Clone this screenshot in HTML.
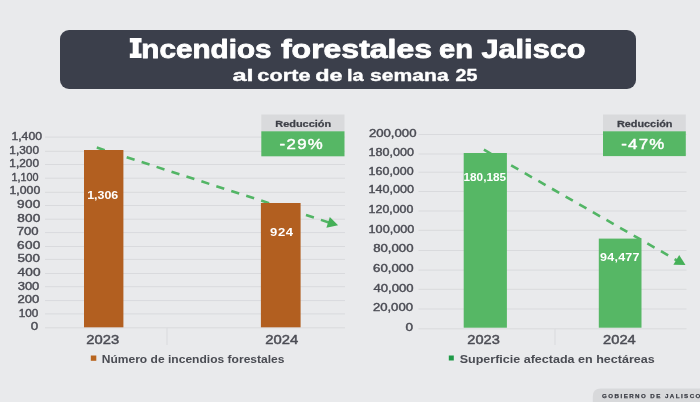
<!DOCTYPE html>
<html>
<head>
<meta charset="utf-8">
<title>Incendios forestales en Jalisco</title>
<style>
html,body{margin:0;padding:0;background:#e9eaec;}
body{width:700px;height:402px;overflow:hidden;position:relative;font-family:"Liberation Sans",sans-serif;}
svg{position:absolute;left:0;top:0;display:block;will-change:transform;}
text{font-family:"Liberation Sans",sans-serif;}
</style>
</head>
<body>
<svg width="700" height="402" viewBox="0 0 700 402">
<rect x="0" y="0" width="700" height="402" fill="#e9eaec"/>
<rect x="60" y="30" width="576" height="59" rx="9" ry="9" fill="#3b3f4b"/>
<path d="M129.8,38.1 H141.6 V42.6 H138.7 V53.5 H141.6 V57.9 H129.8 V53.5 H132.7 V42.6 H129.8 Z" fill="#ffffff"/>
<text transform="translate(141.37,57.50) scale(1.1321,1)" font-size="26.2" fill="#ffffff" font-weight="bold" stroke="#ffffff" stroke-width="0.8" stroke-linejoin="round">ncendios</text>
<text transform="translate(280.96,57.50) scale(1.2210,1)" font-size="26.2" fill="#ffffff" font-weight="bold" stroke="#ffffff" stroke-width="0.8" stroke-linejoin="round">forestales</text>
<text transform="translate(439.06,57.50) scale(1.1135,1)" font-size="26.2" fill="#ffffff" font-weight="bold" stroke="#ffffff" stroke-width="0.8" stroke-linejoin="round">en</text>
<text transform="translate(481.44,57.50) scale(1.1724,1)" font-size="26.2" fill="#ffffff" font-weight="bold" stroke="#ffffff" stroke-width="0.8" stroke-linejoin="round">Jalisco</text>
<text transform="translate(232.47,80.60) scale(1.4628,1)" font-size="17.3" fill="#ffffff" font-weight="bold" stroke="#ffffff" stroke-width="0.4" stroke-linejoin="round">al</text>
<text transform="translate(257.35,80.60) scale(1.2574,1)" font-size="17.3" fill="#ffffff" font-weight="bold" stroke="#ffffff" stroke-width="0.4" stroke-linejoin="round">corte</text>
<text transform="translate(315.24,80.60) scale(1.3551,1)" font-size="17.3" fill="#ffffff" font-weight="bold" stroke="#ffffff" stroke-width="0.4" stroke-linejoin="round">de</text>
<text transform="translate(347.02,80.60) scale(1.1531,1)" font-size="17.3" fill="#ffffff" font-weight="bold" stroke="#ffffff" stroke-width="0.4" stroke-linejoin="round">la</text>
<text transform="translate(370.06,80.60) scale(1.2199,1)" font-size="17.3" fill="#ffffff" font-weight="bold" stroke="#ffffff" stroke-width="0.4" stroke-linejoin="round">semana</text>
<text transform="translate(455.53,80.60) scale(1.1330,1)" font-size="17.3" fill="#ffffff" font-weight="bold" stroke="#ffffff" stroke-width="0.4" stroke-linejoin="round">25</text>
<g stroke="#d9dadd" stroke-width="1">
<line x1="45" x2="345" y1="137.10" y2="137.10"/>
<line x1="45" x2="345" y1="151.30" y2="151.30"/>
<line x1="45" x2="345" y1="164.50" y2="164.50"/>
<line x1="45" x2="345" y1="178.20" y2="178.20"/>
<line x1="45" x2="345" y1="192.30" y2="192.30"/>
<line x1="45" x2="345" y1="205.50" y2="205.50"/>
<line x1="45" x2="345" y1="219.20" y2="219.20"/>
<line x1="45" x2="345" y1="232.60" y2="232.60"/>
<line x1="45" x2="345" y1="246.50" y2="246.50"/>
<line x1="45" x2="345" y1="259.40" y2="259.40"/>
<line x1="45" x2="345" y1="273.50" y2="273.50"/>
<line x1="45" x2="345" y1="286.70" y2="286.70"/>
<line x1="45" x2="345" y1="300.60" y2="300.60"/>
<line x1="45" x2="345" y1="313.90" y2="313.90"/>
<line x1="45" x2="345" y1="327.80" y2="327.80"/>
<line x1="167" x2="167" y1="327.80" y2="345"/>
</g>
<text transform="translate(11.42,139.90) scale(1.1646,1)" font-size="10.5" fill="#4b4c54" stroke="#4b4c54" stroke-width="0.4" stroke-linejoin="round">1,400</text>
<text transform="translate(9.35,153.50) scale(1.1287,1)" font-size="10.5" fill="#4b4c54" stroke="#4b4c54" stroke-width="0.4" stroke-linejoin="round">1,300</text>
<text transform="translate(9.35,167.10) scale(1.1287,1)" font-size="10.5" fill="#4b4c54" stroke="#4b4c54" stroke-width="0.4" stroke-linejoin="round">1,200</text>
<text transform="translate(11.53,180.70) scale(1.0290,1)" font-size="10.5" fill="#4b4c54" stroke="#4b4c54" stroke-width="0.4" stroke-linejoin="round">1,100</text>
<text transform="translate(9.51,194.30) scale(1.1725,1)" font-size="10.5" fill="#4b4c54" stroke="#4b4c54" stroke-width="0.4" stroke-linejoin="round">1,000</text>
<text transform="translate(17.12,207.90) scale(1.3000,1)" font-size="10.5" fill="#4b4c54" letter-spacing="0.184" stroke="#4b4c54" stroke-width="0.4" stroke-linejoin="round">900</text>
<text transform="translate(17.16,221.50) scale(1.3000,1)" font-size="10.5" fill="#4b4c54" letter-spacing="0.168" stroke="#4b4c54" stroke-width="0.4" stroke-linejoin="round">800</text>
<text transform="translate(16.78,235.10) scale(1.2485,1)" font-size="10.5" fill="#4b4c54" stroke="#4b4c54" stroke-width="0.4" stroke-linejoin="round">700</text>
<text transform="translate(17.07,248.70) scale(1.3000,1)" font-size="10.5" fill="#4b4c54" letter-spacing="0.205" stroke="#4b4c54" stroke-width="0.4" stroke-linejoin="round">600</text>
<text transform="translate(17.61,262.30) scale(1.2758,1)" font-size="10.5" fill="#4b4c54" stroke="#4b4c54" stroke-width="0.4" stroke-linejoin="round">500</text>
<text transform="translate(17.45,275.90) scale(1.3000,1)" font-size="10.5" fill="#4b4c54" letter-spacing="0.135" stroke="#4b4c54" stroke-width="0.4" stroke-linejoin="round">400</text>
<text transform="translate(17.66,289.50) scale(1.2383,1)" font-size="10.5" fill="#4b4c54" stroke="#4b4c54" stroke-width="0.4" stroke-linejoin="round">300</text>
<text transform="translate(17.49,303.10) scale(1.2477,1)" font-size="10.5" fill="#4b4c54" stroke="#4b4c54" stroke-width="0.4" stroke-linejoin="round">200</text>
<text transform="translate(18.76,316.70) scale(1.1215,1)" font-size="10.5" fill="#4b4c54" stroke="#4b4c54" stroke-width="0.4" stroke-linejoin="round">100</text>
<text transform="translate(30.63,330.30) scale(1.2725,1)" font-size="10.5" fill="#4b4c54" stroke="#4b4c54" stroke-width="0.4" stroke-linejoin="round">0</text>
<line x1="96.8" y1="147.6" x2="330" y2="222.8" stroke="#52b565" stroke-width="2.6" stroke-dasharray="8.3 7.4"/>
<polygon points="338.1,225.3 329.8,217 326.4,227.7" fill="#45b058"/>
<rect x="84" y="150" width="39.4" height="177.3" fill="#b25f20"/>
<rect x="260.9" y="203" width="39.7" height="124.3" fill="#b25f20"/>
<text transform="translate(87.13,198.90) scale(1.1302,1)" font-size="11" fill="#ffffff" font-weight="bold">1,306</text>
<text transform="translate(270.05,235.50) scale(1.1400,1)" font-size="11.5" fill="#ffffff" font-weight="bold" letter-spacing="0.502">924</text>
<rect x="261.3" y="114.5" width="83.2" height="17" fill="#d9dadc"/>
<rect x="261.3" y="131.3" width="83.2" height="25" fill="#56b765"/>
<text transform="translate(275.28,126.90) scale(1.1294,1)" font-size="9.7" fill="#3e4048" font-weight="bold" stroke="#3e4048" stroke-width="0.25" stroke-linejoin="round">Reducción</text>
<text transform="translate(279.56,149.30) scale(1.2000,1)" font-size="14" fill="#ffffff" letter-spacing="1.116" stroke="#ffffff" stroke-width="0.45" stroke-linejoin="round">-29%</text>
<text transform="translate(86.26,343.50) scale(1.1371,1)" font-size="13" fill="#4b4c54" stroke="#4b4c54" stroke-width="0.45" stroke-linejoin="round">2023</text>
<text transform="translate(265.16,343.50) scale(1.1400,1)" font-size="13" fill="#4b4c54" letter-spacing="0.062" stroke="#4b4c54" stroke-width="0.45" stroke-linejoin="round">2024</text>
<rect x="90.8" y="355.5" width="5.5" height="5.3" fill="#b8651f"/>
<text transform="translate(101.70,362.50) scale(1.0968,1)" font-size="11" fill="#4a4c53" font-weight="bold">Número de incendios forestales</text>
<g stroke="#d9dadd" stroke-width="1">
<line x1="418.5" x2="686.5" y1="134.50" y2="134.50"/>
<line x1="418.5" x2="686.5" y1="154.00" y2="154.00"/>
<line x1="418.5" x2="686.5" y1="172.20" y2="172.20"/>
<line x1="418.5" x2="686.5" y1="191.50" y2="191.50"/>
<line x1="418.5" x2="686.5" y1="211.00" y2="211.00"/>
<line x1="418.5" x2="686.5" y1="230.30" y2="230.30"/>
<line x1="418.5" x2="686.5" y1="250.50" y2="250.50"/>
<line x1="418.5" x2="686.5" y1="270.10" y2="270.10"/>
<line x1="418.5" x2="686.5" y1="289.30" y2="289.30"/>
<line x1="418.5" x2="686.5" y1="309.00" y2="309.00"/>
<line x1="418.5" x2="686.5" y1="328.80" y2="328.80"/>
<line x1="555" x2="555" y1="328.80" y2="345"/>
</g>
<text transform="translate(368.89,136.50) scale(1.2556,1)" font-size="10.5" fill="#4b4c54" stroke="#4b4c54" stroke-width="0.4" stroke-linejoin="round">200,000</text>
<text transform="translate(368.59,156.00) scale(1.1969,1)" font-size="10.5" fill="#4b4c54" stroke="#4b4c54" stroke-width="0.4" stroke-linejoin="round">180,000</text>
<text transform="translate(368.60,175.00) scale(1.1888,1)" font-size="10.5" fill="#4b4c54" stroke="#4b4c54" stroke-width="0.4" stroke-linejoin="round">160,000</text>
<text transform="translate(368.59,193.40) scale(1.1997,1)" font-size="10.5" fill="#4b4c54" stroke="#4b4c54" stroke-width="0.4" stroke-linejoin="round">140,000</text>
<text transform="translate(368.61,213.00) scale(1.1806,1)" font-size="10.5" fill="#4b4c54" stroke="#4b4c54" stroke-width="0.4" stroke-linejoin="round">120,000</text>
<text transform="translate(368.59,232.70) scale(1.2051,1)" font-size="10.5" fill="#4b4c54" stroke="#4b4c54" stroke-width="0.4" stroke-linejoin="round">100,000</text>
<text transform="translate(373.18,252.00) scale(1.2573,1)" font-size="10.5" fill="#4b4c54" stroke="#4b4c54" stroke-width="0.4" stroke-linejoin="round">80,000</text>
<text transform="translate(373.09,271.80) scale(1.2602,1)" font-size="10.5" fill="#4b4c54" stroke="#4b4c54" stroke-width="0.4" stroke-linejoin="round">60,000</text>
<text transform="translate(373.46,291.50) scale(1.2485,1)" font-size="10.5" fill="#4b4c54" stroke="#4b4c54" stroke-width="0.4" stroke-linejoin="round">40,000</text>
<text transform="translate(372.89,311.00) scale(1.2506,1)" font-size="10.5" fill="#4b4c54" stroke="#4b4c54" stroke-width="0.4" stroke-linejoin="round">20,000</text>
<text transform="translate(405.62,330.50) scale(1.2924,1)" font-size="10.5" fill="#4b4c54" stroke="#4b4c54" stroke-width="0.4" stroke-linejoin="round">0</text>
<line x1="483.9" y1="149.7" x2="678" y2="261" stroke="#52b565" stroke-width="2.6" stroke-dasharray="8.3 7.4"/>
<polygon points="685.5,265 679.2,255.1 673.4,264.8" fill="#45b058"/>
<rect x="463.7" y="153" width="43.2" height="174.7" fill="#56b765"/>
<rect x="598.8" y="238.6" width="42.7" height="89.1" fill="#56b765"/>
<text transform="translate(463.47,181.00) scale(1.0726,1)" font-size="11" fill="#ffffff" font-weight="bold">180,185</text>
<text transform="translate(600.07,260.80) scale(1.1400,1)" font-size="11" fill="#ffffff" font-weight="bold" letter-spacing="0.196">94,477</text>
<rect x="603" y="114.5" width="82.8" height="17" fill="#d9dadc"/>
<rect x="603" y="131.3" width="82.8" height="24.8" fill="#56b765"/>
<text transform="translate(616.88,126.70) scale(1.1232,1)" font-size="9.7" fill="#3e4048" font-weight="bold" stroke="#3e4048" stroke-width="0.25" stroke-linejoin="round">Reducción</text>
<text transform="translate(621.16,149.30) scale(1.2000,1)" font-size="14" fill="#ffffff" letter-spacing="1.088" stroke="#ffffff" stroke-width="0.45" stroke-linejoin="round">-47%</text>
<text transform="translate(467.37,343.90) scale(1.1226,1)" font-size="13" fill="#4b4c54" stroke="#4b4c54" stroke-width="0.45" stroke-linejoin="round">2023</text>
<text transform="translate(603.07,343.90) scale(1.1296,1)" font-size="13" fill="#4b4c54" stroke="#4b4c54" stroke-width="0.45" stroke-linejoin="round">2024</text>
<rect x="448.8" y="355.5" width="5" height="5" fill="#1f9a48"/>
<text transform="translate(459.65,362.50) scale(1.1400,1)" font-size="11" fill="#4a4c53" font-weight="bold" letter-spacing="0.003">Superficie afectada en hectáreas</text>
<path d="M592.8,402 L592.8,396.5 Q592.8,388.6 600.8,388.6 L700,388.6 L700,402 Z" fill="#d8d9db"/>
<text x="602.1" y="397.7" font-size="6.2" font-weight="bold" fill="#3a3c44" stroke="#3a3c44" stroke-width="0.25" letter-spacing="1.43">GOBIERNO DE JALISCO</text>
</svg>
</body>
</html>
